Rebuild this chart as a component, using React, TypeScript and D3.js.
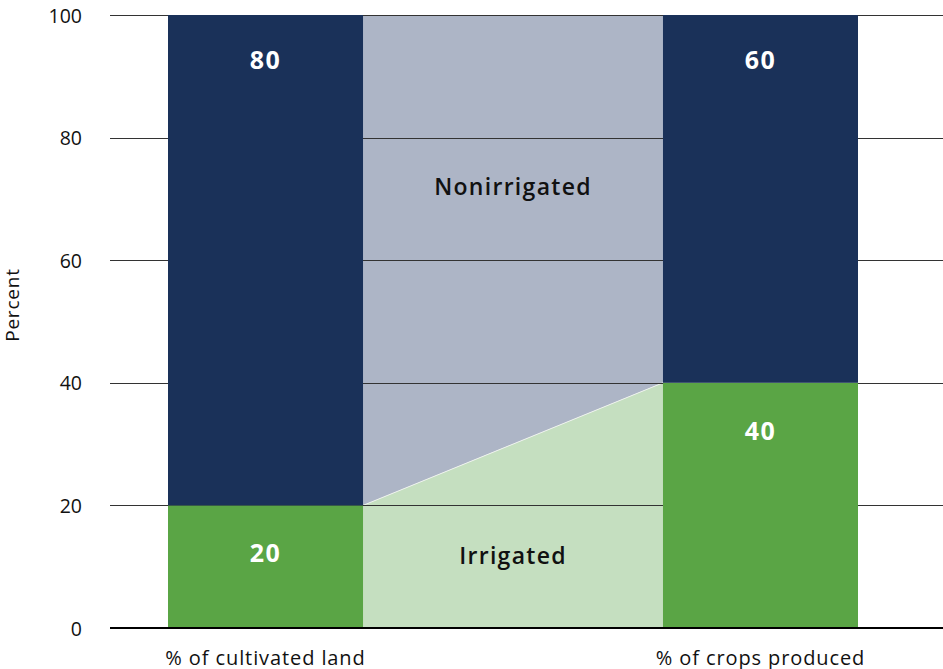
import React from "react";
import * as d3 from "d3";

const categories = ["% of cultivated land", "% of crops produced"];
const irrigated = [20, 40];
const nonirrigated = [80, 60];
const yTicks = [0, 20, 40, 60, 80, 100];
const areaLabels = ["Nonirrigated", "Irrigated"];

const W = 943;
const H = 669;
const FONT = "'Open Sans', Lato, sans-serif";

export default function App() {
  const y = d3.scaleLinear().domain([0, 100]).range([628, 15]);
  const x = d3.scaleBand().domain(categories).range([168, 858]).paddingInner(0.606).paddingOuter(0);
  const bw = x.bandwidth();
  const x0 = (x(categories[0]) as number) + bw;
  const x1 = x(categories[1]) as number;

  const areaPts: [number, number][] = [
    [x0, irrigated[0]],
    [x1, irrigated[1]],
  ];
  const lowArea = d3
    .area<[number, number]>()
    .x((d) => d[0])
    .y0(() => y(0))
    .y1((d) => y(d[1]));
  const highArea = d3
    .area<[number, number]>()
    .x((d) => d[0])
    .y0((d) => y(d[1]))
    .y1(() => y(100));
  const sepLine = d3
    .line<[number, number]>()
    .x((d) => d[0])
    .y((d) => y(d[1]));

  const midX = (x0 + x1) / 2;

  return (
    <svg width={W} height={H} style={{ position: "absolute", left: 0, top: 0 }}>
      <rect width={W} height={H} fill="#fff" />
      <path d={highArea(areaPts) || ""} fill="#adb5c6" />
      <path d={lowArea(areaPts) || ""} fill="#c5dfc0" />
      <path d={sepLine(areaPts) || ""} fill="none" stroke="#eef2ee" strokeWidth={1} />
      {yTicks.filter((t) => t > 0).map((t) => (
        <line key={t} x1={110} x2={W} y1={Math.round(y(t)) + 0.5} y2={Math.round(y(t)) + 0.5} stroke="#333" strokeWidth={1} />
      ))}
      {categories.map((c, i) => {
        const bx = x(c) as number;
        return (
          <g key={c}>
            <rect x={bx} y={y(irrigated[i])} width={bw} height={y(0) - y(irrigated[i])} fill="#5aa545" />
            <rect x={bx} y={y(irrigated[i] + nonirrigated[i])} width={bw} height={y(irrigated[i]) - y(irrigated[i] + nonirrigated[i])} fill="#1a3159" />
            <text x={bx + bw / 2} y={y(irrigated[i] + nonirrigated[i]) + 44} textAnchor="middle" dominantBaseline="central" fill="#fff" fontFamily={FONT} fontWeight={700} fontSize={25} letterSpacing={1.5}>
              {nonirrigated[i]}
            </text>
            <text x={bx + bw / 2} y={y(irrigated[i]) + 47} textAnchor="middle" dominantBaseline="central" fill="#fff" fontFamily={FONT} fontWeight={700} fontSize={25} letterSpacing={1.5}>
              {irrigated[i]}
            </text>
            <text x={bx + bw / 2} y={657} textAnchor="middle" dominantBaseline="central" fill="#111" fontFamily={FONT} fontSize={20} letterSpacing={0.9}>
              {c}
            </text>
          </g>
        );
      })}
      <line x1={110} x2={W} y1={y(0)} y2={y(0)} stroke="#000" strokeWidth={2} />
      {yTicks.map((t) => (
        <text key={t} x={82} y={y(t)} textAnchor="end" dominantBaseline="central" fill="#111" fontFamily={FONT} fontSize={19.5}>
          {t}
        </text>
      ))}
      <text transform={`translate(12,305) rotate(-90)`} textAnchor="middle" dominantBaseline="central" fill="#111" fontFamily={FONT} fontSize={19} letterSpacing={0.8}>
        Percent
      </text>
      <text x={midX} y={186} textAnchor="middle" dominantBaseline="central" fill="#111" fontFamily={FONT} fontWeight={600} fontSize={23} letterSpacing={1.3}>
        {areaLabels[0]}
      </text>
      <text x={midX} y={555} textAnchor="middle" dominantBaseline="central" fill="#111" fontFamily={FONT} fontWeight={600} fontSize={23} letterSpacing={1.3}>
        {areaLabels[1]}
      </text>
    </svg>
  );
}
